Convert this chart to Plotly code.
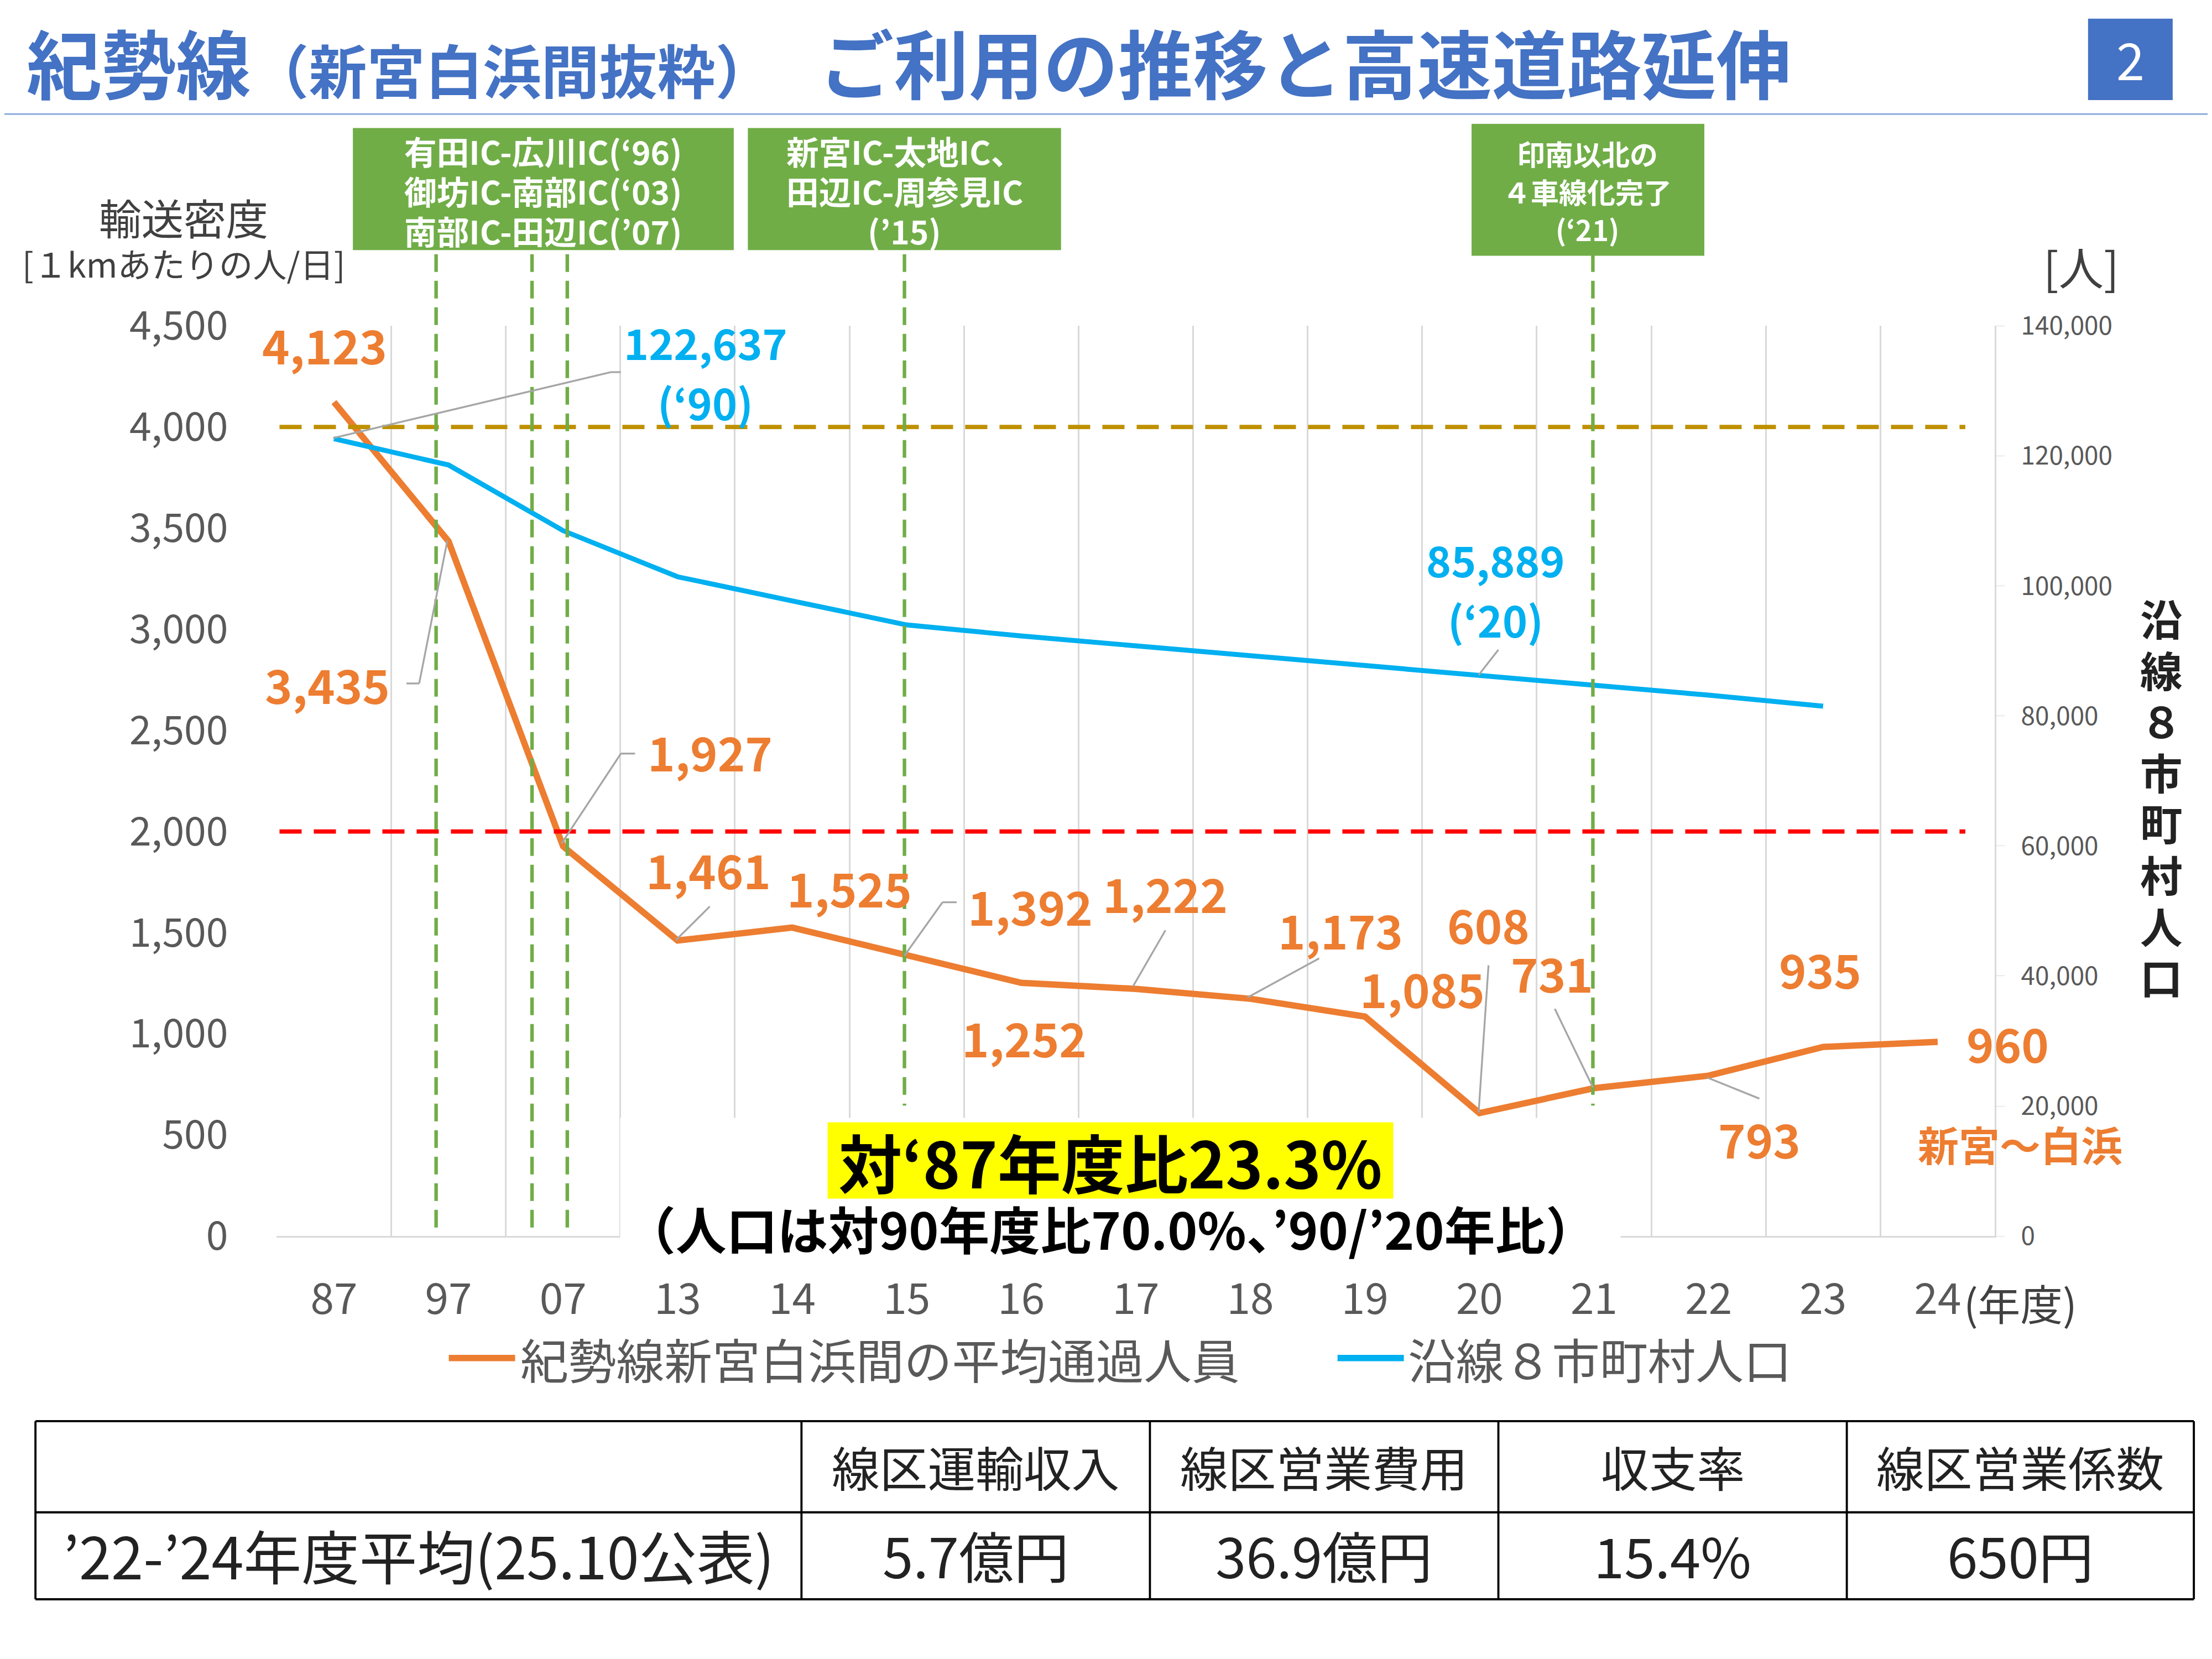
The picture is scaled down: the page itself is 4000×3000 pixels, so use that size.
import plotly.graph_objects as go

years = ["87", "97", "07", "13", "14", "15", "16", "17", "18", "19", "20", "21", "22", "23", "24"]
density = [4123, 3435, 1927, 1461, 1525, 1392, 1252, 1222, 1173, 1085, 608, 731, 793, 935, 960]
population = [122637, 118600, 108500, 101400, 97700, 94000, 92300, 90800, 89300, 87800, 86300, 84700, 83200, 81500, None]
left_ticks = [0, 500, 1000, 1500, 2000, 2500, 3000, 3500, 4000, 4500]
right_ticks = [0, 20000, 40000, 60000, 80000, 100000, 120000, 140000]
table_head = ["線区運輸収入", "線区営業費用", "収支率", "線区営業係数"]
table_row = ["’22-’24年度平均(25.10公表)", "5.7億円", "36.9億円", "15.4%", "650円"]

W, H = 4000, 3000
S = W / 1568
DH = H / S
def px(x): return (x - 3) / 1568
def py(y): return 1 - ((y - 22.7) / 0.971) / DH
def F(n): return n * S
def I(n): return int(round(n * S))

ORANGE = "#ED7D31"; BLUE = "#00B0F0"; GREEN = "#70AD47"; TBLUE = "#4472C4"
JP = "Noto Sans CJK JP"

fig = go.Figure()
fig.add_trace(go.Scatter(x=years, y=density, mode="lines", name="紀勢線新宮白浜間の平均通過人員",
                         line=dict(color=ORANGE, width=F(4.5)), showlegend=False))
fig.add_trace(go.Scatter(x=years, y=population, mode="lines", name="沿線８市町村人口", yaxis="y2",
                         line=dict(color=BLUE, width=F(3.5)), showlegend=False))

shapes = []
ann = []
def line(x0, y0, x1, y1, color, w, dash=None):
    d = dict(color=color, width=F(w))
    if dash: d["dash"] = dash
    shapes.append(dict(type="line", xref="paper", yref="paper", x0=px(x0), y0=py(y0), x1=px(x1), y1=py(y1), line=d))
def rect(x0, y0, x1, y1, fill):
    shapes.append(dict(type="rect", xref="paper", yref="paper", x0=px(x0), y0=py(y0), x1=px(x1), y1=py(y1),
                       fillcolor=fill, line=dict(width=0), layer="above"))
def text(x, y, t, size, color="#404040", bold=False, xa="center", bg=None, w=None, h=None):
    a = dict(xref="paper", yref="paper", x=px(x), y=py(y), text=f"<b>{t}</b>" if bold else t,
             showarrow=False, xanchor=xa, yanchor="middle", bgcolor=bg,
             font=dict(family=JP, size=F(size), color=color))
    if w: a["width"] = I(w)
    if h: a["height"] = I(h)
    ann.append(a)

shapes.append(dict(type="line", xref="paper", yref="y", x0=px(198), x1=px(1393), y0=4000, y1=4000,
                   line=dict(color="#BF9000", width=F(3), dash="40px,22px")))
shapes.append(dict(type="line", xref="paper", yref="y", x0=px(198), x1=px(1393), y0=2000, y1=2000,
                   line=dict(color="#FF0000", width=F(3), dash="40px,22px")))
for x, yb in [(309, 878), (377, 878), (402, 878), (641, 785), (1129, 785)]:
    line(x, 178, x, yb, GREEN, 2.5, "32px,16px")

text(18, 40, "紀勢線<span style='font-size:%dpx'>（新宮白浜間抜粋）</span>　ご利用の推移と高速道路延伸" % I(41),
     53, TBLUE, True, "left")
line(0, 78, 1568, 78, "#8FAADC", 1.2)
rect(1480, 10, 1540, 68, TBLUE)
text(1510, 38, "2", 36, "white")

rect(250, 88, 520, 175, GREEN); rect(530, 88, 752, 175, GREEN); rect(1043, 85, 1208, 179, GREEN)
for i, t in enumerate(["有田IC-広川IC(‘96)", "御坊IC-南部IC(‘03)", "南部IC-田辺IC(’07)"]):
    text(385, 104 + i * 28.5, t, 23, "white", True)
for i, t in enumerate(["新宮IC-太地IC、", "田辺IC-周参見IC", "(’15)"]):
    text(641, 104 + i * 28.5, t, 23, "white", True)
for i, t in enumerate(["印南以北の", "４車線化完了", "(‘21)"]):
    text(1125, 106 + i * 27, t, 20, "white", True)

text(130, 151, "輸送密度", 30)
text(130, 184, "[１kmあたりの人/日]", 24)
text(1475, 186, "[人]", 32)
for i, ch in enumerate("沿線８市町村人口"):
    text(1532, 437 + i * 36.5, ch, 30, "#222222", True)
text(1432, 925, "(年度)", 30, xa="center")

lab = [(230, 242, "4,123"), (232, 484, "3,435"), (503, 532, "1,927"), (502, 616, "1,461"),
       (602, 629, "1,525"), (730, 642, "1,392"), (826, 633, "1,222"), (950, 659, "1,173"),
       (1055, 655, "608"), (1008, 701, "1,085"), (1100, 690, "731"), (726, 736, "1,252"),
       (1290, 687, "935"), (1247, 808, "793"), (1423, 740, "960")]
for x, y, t in lab:
    text(x, y, t, 33, ORANGE, True)
text(1432, 812, "新宮～白浜", 29, ORANGE, True)
text(500, 240, "122,637", 30, BLUE, True)
text(500, 283, "(‘90)", 30, BLUE, True)
text(1060, 395, "85,889", 30, BLUE, True)
text(1060, 438, "(‘20)", 30, BLUE, True)

GR = "#A6A6A6"
for seg in [[(236, 309), (433, 262), (440, 262)], [(317, 382), (297, 484), (288, 484)],
            [(398, 598), (440, 534), (450, 534)], [(479, 667), (503, 643)],
            [(641, 678), (668, 640), (678, 640)], [(803, 700), (826, 660)],
            [(884, 708), (935, 680)], [(1048, 790), (1055, 685)], [(1129, 772), (1102, 716)],
            [(1210, 765), (1247, 780)], [(1048, 478), (1062, 460)]]:
    for (a, b), (c, d) in zip(seg[:-1], seg[1:]):
        line(a, b, c, d, GR, 1.3)

text(794, 842, "", 10, bg="white", w=708, h=95)
text(787, 824, "対‘87年度比23.3%", 45, "#000000", True, bg="#FFFF00", w=400, h=53)
text(787, 872, "（人口は対90年度比70.0%、’90/’20年比）", 36, "#000000", True)

line(318, 965, 365, 965, ORANGE, 4.5)
text(368, 965, "紀勢線新宮白浜間の平均通過人員", 34, "#595959", xa="left")
line(948, 965, 995, 965, BLUE, 4.5)
text(997, 965, "沿線８市町村人口", 34, "#595959", xa="left")

cols = [25, 568, 815, 1062, 1309, 1555]
rows = [1010, 1075, 1137]
for y in rows:
    line(25, y, 1555, y, "#000000", 1.5)
for x in cols:
    line(x, 1010, x, 1137, "#000000", 1.5)
for i, t in enumerate(table_head):
    text((cols[i + 1] + cols[i + 2]) / 2, 1042, t, 34, "#222222")
for i, t in enumerate(table_row):
    text((cols[i] + cols[i + 1]) / 2, 1105, t, 41 if i == 0 else 39, "#222222")

fig.update_layout(
    width=W, height=H, margin=dict(l=0, r=0, t=0, b=0), plot_bgcolor="white", paper_bgcolor="white",
    font=dict(family=JP, color="#595959"), showlegend=False,
    xaxis=dict(domain=[px(196), px(1414)], type="category", tickson="boundaries", showgrid=True,
               gridcolor="#D9D9D9", gridwidth=F(1), showline=True, linecolor="#D9D9D9", linewidth=F(1),
               ticks="", tickfont=dict(size=F(30), color="#595959"), ticklabelstandoff=I(18),
               range=[-0.5, 14.5]),
    yaxis=dict(domain=[py(878), py(229)], range=[0, 4500], tickvals=left_ticks, tickformat=",",
               showgrid=False, zeroline=False, tickfont=dict(size=F(28), color="#595959"),
               ticklabelstandoff=I(34)),
    yaxis2=dict(overlaying="y", side="right", range=[0, 140000], tickvals=right_ticks, tickformat=",",
                showgrid=False, zeroline=False, showline=True, linecolor="#D9D9D9", linewidth=F(1),
                ticks="outside", ticklen=I(6), tickcolor="#D9D9D9",
                tickfont=dict(size=F(18), color="#595959"), ticklabelstandoff=I(8)),
    shapes=shapes, annotations=ann,
)
fig.write_html("out.html")
